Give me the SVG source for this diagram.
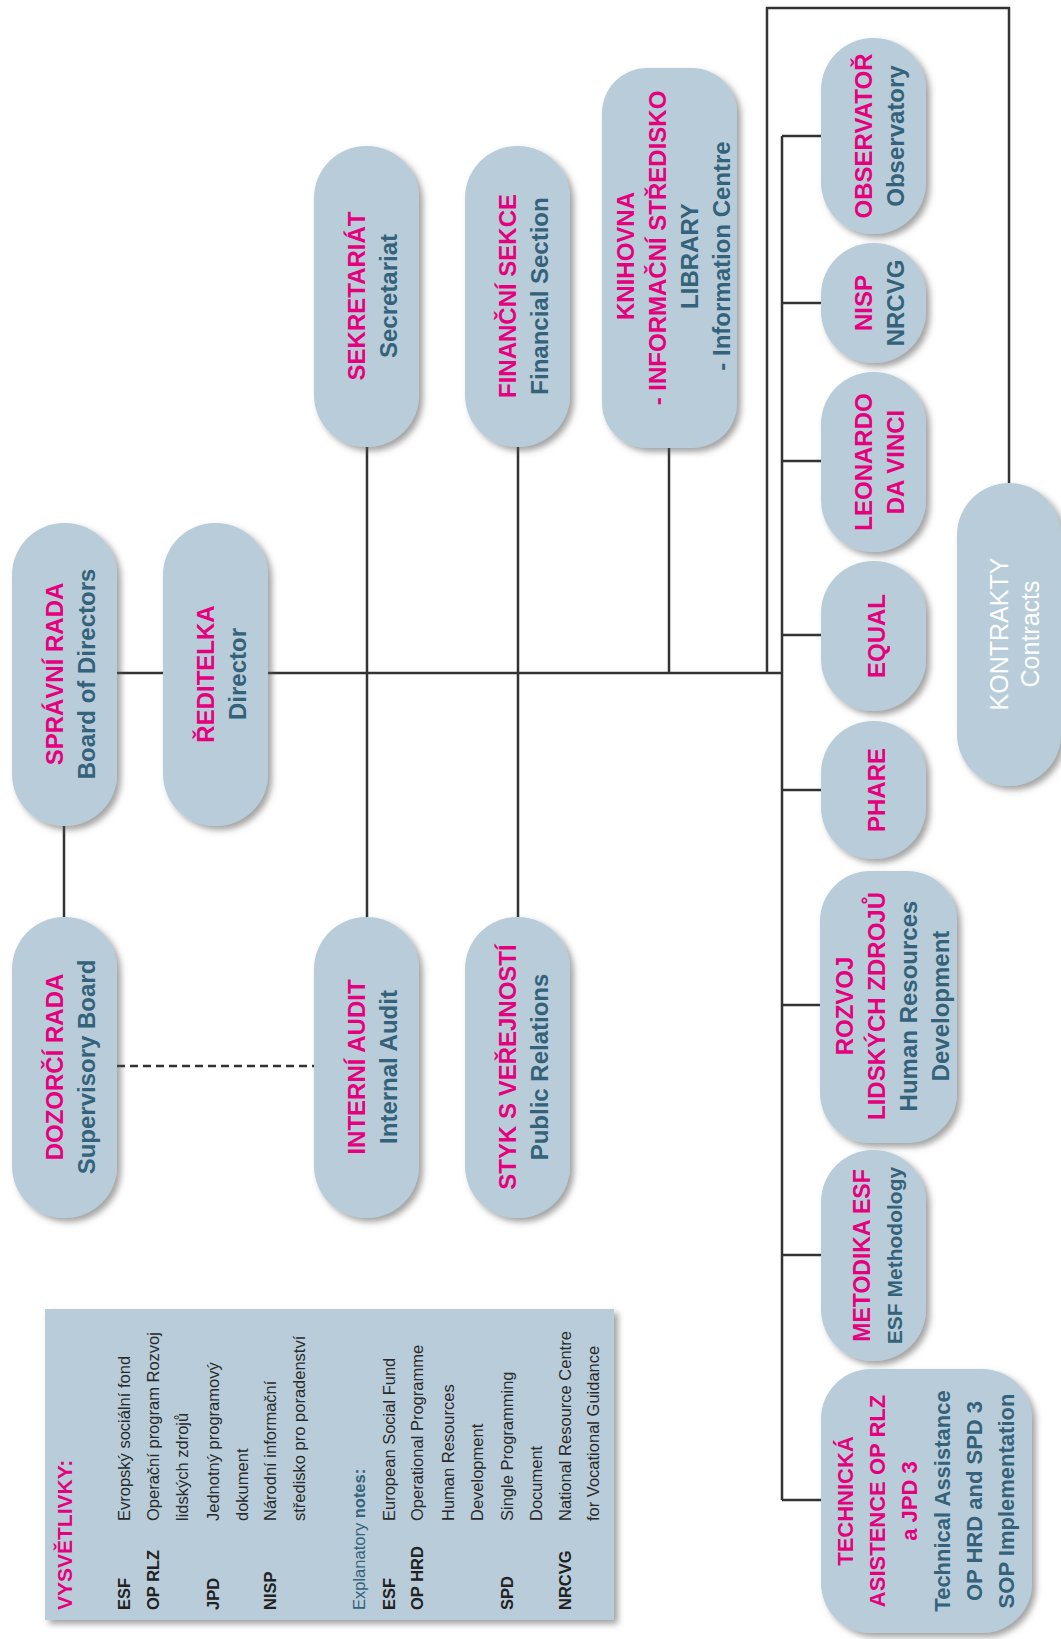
<svg xmlns="http://www.w3.org/2000/svg" width="1061" height="1639" viewBox="0 0 1061 1639">
<defs>
<filter id="sh" x="-20%" y="-20%" width="150%" height="150%">
<feDropShadow dx="4" dy="4" stdDeviation="3" flood-color="#555" flood-opacity="0.55"/>
</filter>
</defs>
<style>
.pill{fill:#b8cdd9;filter:url(#sh)}
.pk{fill:#e5007d;font-family:"Liberation Sans",Arial,sans-serif;font-weight:bold;font-size:24px;text-anchor:middle}
.tl{fill:#34627a;font-family:"Liberation Sans",Arial,sans-serif;font-weight:bold;font-size:24px;text-anchor:middle}
.wh{fill:#ffffff;font-family:"Liberation Sans",Arial,sans-serif;font-size:25px;text-anchor:middle}
.sm .pk,.sm .tl{font-size:22px}
.conn{stroke:#333;stroke-width:2.5;fill:none}
.dash{stroke-dasharray:8 5}
.lg{font-family:"Liberation Sans",Arial,sans-serif;font-size:16.5px;fill:#2a2a2a}
.lgb{font-family:"Liberation Sans",Arial,sans-serif;font-size:16.5px;font-weight:bold;fill:#222}
.lgh{font-family:"Liberation Sans",Arial,sans-serif;font-size:21px;font-weight:bold;fill:#e5007d}
.lgt{font-family:"Liberation Sans",Arial,sans-serif;font-size:16.5px;fill:#34627a}
</style>
<rect width="1061" height="1639" fill="#ffffff"/>

<g id="connectors">
<path class="conn" d="M117,673 H163"/>
<path class="conn" d="M268,673 H782"/>
<path class="conn" d="M64,826 V917"/>
<path class="conn" d="M367,447 V917"/>
<path class="conn" d="M518,447 V917"/>
<path class="conn" d="M669,448 V673"/>
<path class="conn" d="M767,673 V8 H1009 V483"/>
<path class="conn" d="M782,136 V1500"/>
<path class="conn" d="M782,136 H821 M782,303 H821 M782,461 H821 M782,635 H821 M782,790 H821 M782,1005 H820 M782,1255 H821 M782,1500 H821"/>
<path class="conn dash" d="M117,1066 H314"/>
</g>

<g id="spravni-rada">
<rect class="pill" x="12" y="523" width="105" height="303" rx="52"/>
<g transform="translate(64.5,674) rotate(-90)"><text class="pk" y="-2">SPRÁVNÍ RADA</text><text class="tl" y="30">Board of Directors</text></g>
</g>
<g id="reditelka">
<rect class="pill" x="163" y="523" width="105" height="303" rx="52"/>
<g transform="translate(215.5,674) rotate(-90)"><text class="pk" y="-2">ŘEDITELKA</text><text class="tl" y="30">Director</text></g>
</g>
<g id="dozorci-rada">
<rect class="pill" x="12" y="917" width="105" height="301" rx="52"/>
<g transform="translate(64.5,1067) rotate(-90)"><text class="pk" y="-2">DOZORČÍ RADA</text><text class="tl" y="30">Supervisory Board</text></g>
</g>
<g id="interni-audit">
<rect class="pill" x="314" y="917" width="105" height="301" rx="52"/>
<g transform="translate(366.5,1067) rotate(-90)"><text class="pk" y="-2">INTERNÍ AUDIT</text><text class="tl" y="30">Internal Audit</text></g>
</g>
<g id="styk-s-verejnosti">
<rect class="pill" x="465" y="917" width="105" height="301" rx="52"/>
<g transform="translate(517.5,1067) rotate(-90)"><text class="pk" y="-2">STYK S VEŘEJNOSTÍ</text><text class="tl" y="30">Public Relations</text></g>
</g>
<g id="sekretariat">
<rect class="pill" x="314" y="146" width="105" height="301" rx="52"/>
<g transform="translate(366.5,296) rotate(-90)"><text class="pk" y="-2">SEKRETARIÁT</text><text class="tl" y="30">Secretariat</text></g>
</g>
<g id="financni-sekce">
<rect class="pill" x="465" y="146" width="105" height="301" rx="52"/>
<g transform="translate(517.5,296) rotate(-90)"><text class="pk" y="-2">FINANČNÍ SEKCE</text><text class="tl" y="30">Financial Section</text></g>
</g>
<g id="knihovna">
<rect class="pill" x="602" y="68" width="135" height="380" rx="45"/>
<g transform="translate(669.5,256) rotate(-90)"><text class="pk" y="-36">KNIHOVNA</text><text class="pk" x="8" y="-4">- INFORMAČNÍ STŘEDISKO</text><text class="tl" y="28">LIBRARY</text><text class="tl" y="60">- Information Centre</text></g>
</g>
<g id="observator">
<rect class="pill" x="821" y="38" width="105" height="196" rx="52"/>
<g transform="translate(873.5,136) rotate(-90)"><text class="pk" y="-2">OBSERVATOŘ</text><text class="tl" y="30">Observatory</text></g>
</g>
<g id="nisp">
<rect class="pill" x="821" y="243" width="105" height="120" rx="52"/>
<g transform="translate(873.5,303) rotate(-90)"><text class="pk" y="-2">NISP</text><text class="tl" y="30">NRCVG</text></g>
</g>
<g id="leonardo">
<rect class="pill" x="821" y="372" width="105" height="180" rx="52"/>
<g transform="translate(873.5,462) rotate(-90)"><text class="pk" y="-2">LEONARDO</text><text class="pk" y="30">DA VINCI</text></g>
</g>
<g id="equal">
<rect class="pill" x="821" y="561" width="105" height="150" rx="52"/>
<g transform="translate(873.5,636) rotate(-90)"><text class="pk" y="11">EQUAL</text></g>
</g>
<g id="phare">
<rect class="pill" x="821" y="721" width="105" height="138" rx="52"/>
<g transform="translate(873.5,790) rotate(-90)"><text class="pk" y="11">PHARE</text></g>
</g>
<g id="rozvoj">
<rect class="pill" x="820" y="871" width="137" height="272" rx="50"/>
<g transform="translate(888.5,1006) rotate(-90)"><text class="pk" y="-36">ROZVOJ</text><text class="pk" y="-4">LIDSKÝCH ZDROJŮ</text><text class="tl" y="28">Human Resources</text><text class="tl" y="60">Development</text></g>
</g>
<g id="metodika-esf">
<rect class="pill" x="821" y="1150" width="105" height="211" rx="52"/>
<g transform="translate(873.5,1255.5) rotate(-90)"><text class="pk" y="-4" style="font-size:23px">METODIKA ESF</text><text class="tl" y="28" style="font-size:21px">ESF Methodology</text></g>
</g>
<g id="technicka-asistence" class="sm">
<rect class="pill" x="821" y="1369" width="211" height="264" rx="50"/>
<g transform="translate(926.5,1501) rotate(-90)"><text class="pk" y="-74">TECHNICKÁ</text><text class="pk" y="-42">ASISTENCE OP RLZ</text><text class="pk" y="-10">a JPD 3</text><text class="tl" y="23">Technical Assistance</text><text class="tl" y="55">OP HRD and SPD 3</text><text class="tl" y="87">SOP Implementation</text></g>
</g>
<g id="kontrakty">
<rect class="pill" x="957" y="483" width="104" height="303" rx="52"/>
<g transform="translate(1009,634) rotate(-90)"><text class="wh" y="-1">KONTRAKTY</text><text class="wh" y="30">Contracts</text></g>
</g>

<g id="legend">
<rect x="45" y="1309" width="569" height="311" fill="#b8cdd9" filter="url(#sh)"/>
<text class="lgh" transform="translate(72,1610) rotate(-90)">VYSVĚTLIVKY:</text>
<text class="lgb" transform="translate(130,1610) rotate(-90)">ESF</text>
<text class="lg" transform="translate(130,1521) rotate(-90)">Evropský sociální fond</text>
<text class="lgb" transform="translate(159,1610) rotate(-90)">OP RLZ</text>
<text class="lg" transform="translate(159,1521) rotate(-90)">Operační program Rozvoj</text>
<text class="lg" transform="translate(188,1521) rotate(-90)">lidských zdrojů</text>
<text class="lgb" transform="translate(219,1610) rotate(-90)">JPD</text>
<text class="lg" transform="translate(219,1521) rotate(-90)">Jednotný programový</text>
<text class="lg" transform="translate(248,1521) rotate(-90)">dokument</text>
<text class="lgb" transform="translate(276,1610) rotate(-90)">NISP</text>
<text class="lg" transform="translate(276,1521) rotate(-90)">Národní informační</text>
<text class="lg" transform="translate(305,1521) rotate(-90)">středisko pro poradenství</text>
<text class="lgt" transform="translate(365,1610) rotate(-90)">Explanatory <tspan font-weight="bold">notes:</tspan></text>
<text class="lgb" transform="translate(395,1610) rotate(-90)">ESF</text>
<text class="lg" transform="translate(395,1521) rotate(-90)">European Social Fund</text>
<text class="lgb" transform="translate(423,1610) rotate(-90)">OP HRD</text>
<text class="lg" transform="translate(423,1521) rotate(-90)">Operational Programme</text>
<text class="lg" transform="translate(454,1521) rotate(-90)">Human Resources</text>
<text class="lg" transform="translate(483,1521) rotate(-90)">Development</text>
<text class="lgb" transform="translate(513,1610) rotate(-90)">SPD</text>
<text class="lg" transform="translate(513,1521) rotate(-90)">Single Programming</text>
<text class="lg" transform="translate(542,1521) rotate(-90)">Document</text>
<text class="lgb" transform="translate(571,1610) rotate(-90)">NRCVG</text>
<text class="lg" transform="translate(571,1521) rotate(-90)">National Resource Centre</text>
<text class="lg" transform="translate(599,1521) rotate(-90)">for Vocational Guidance</text>
</g>
</svg>
